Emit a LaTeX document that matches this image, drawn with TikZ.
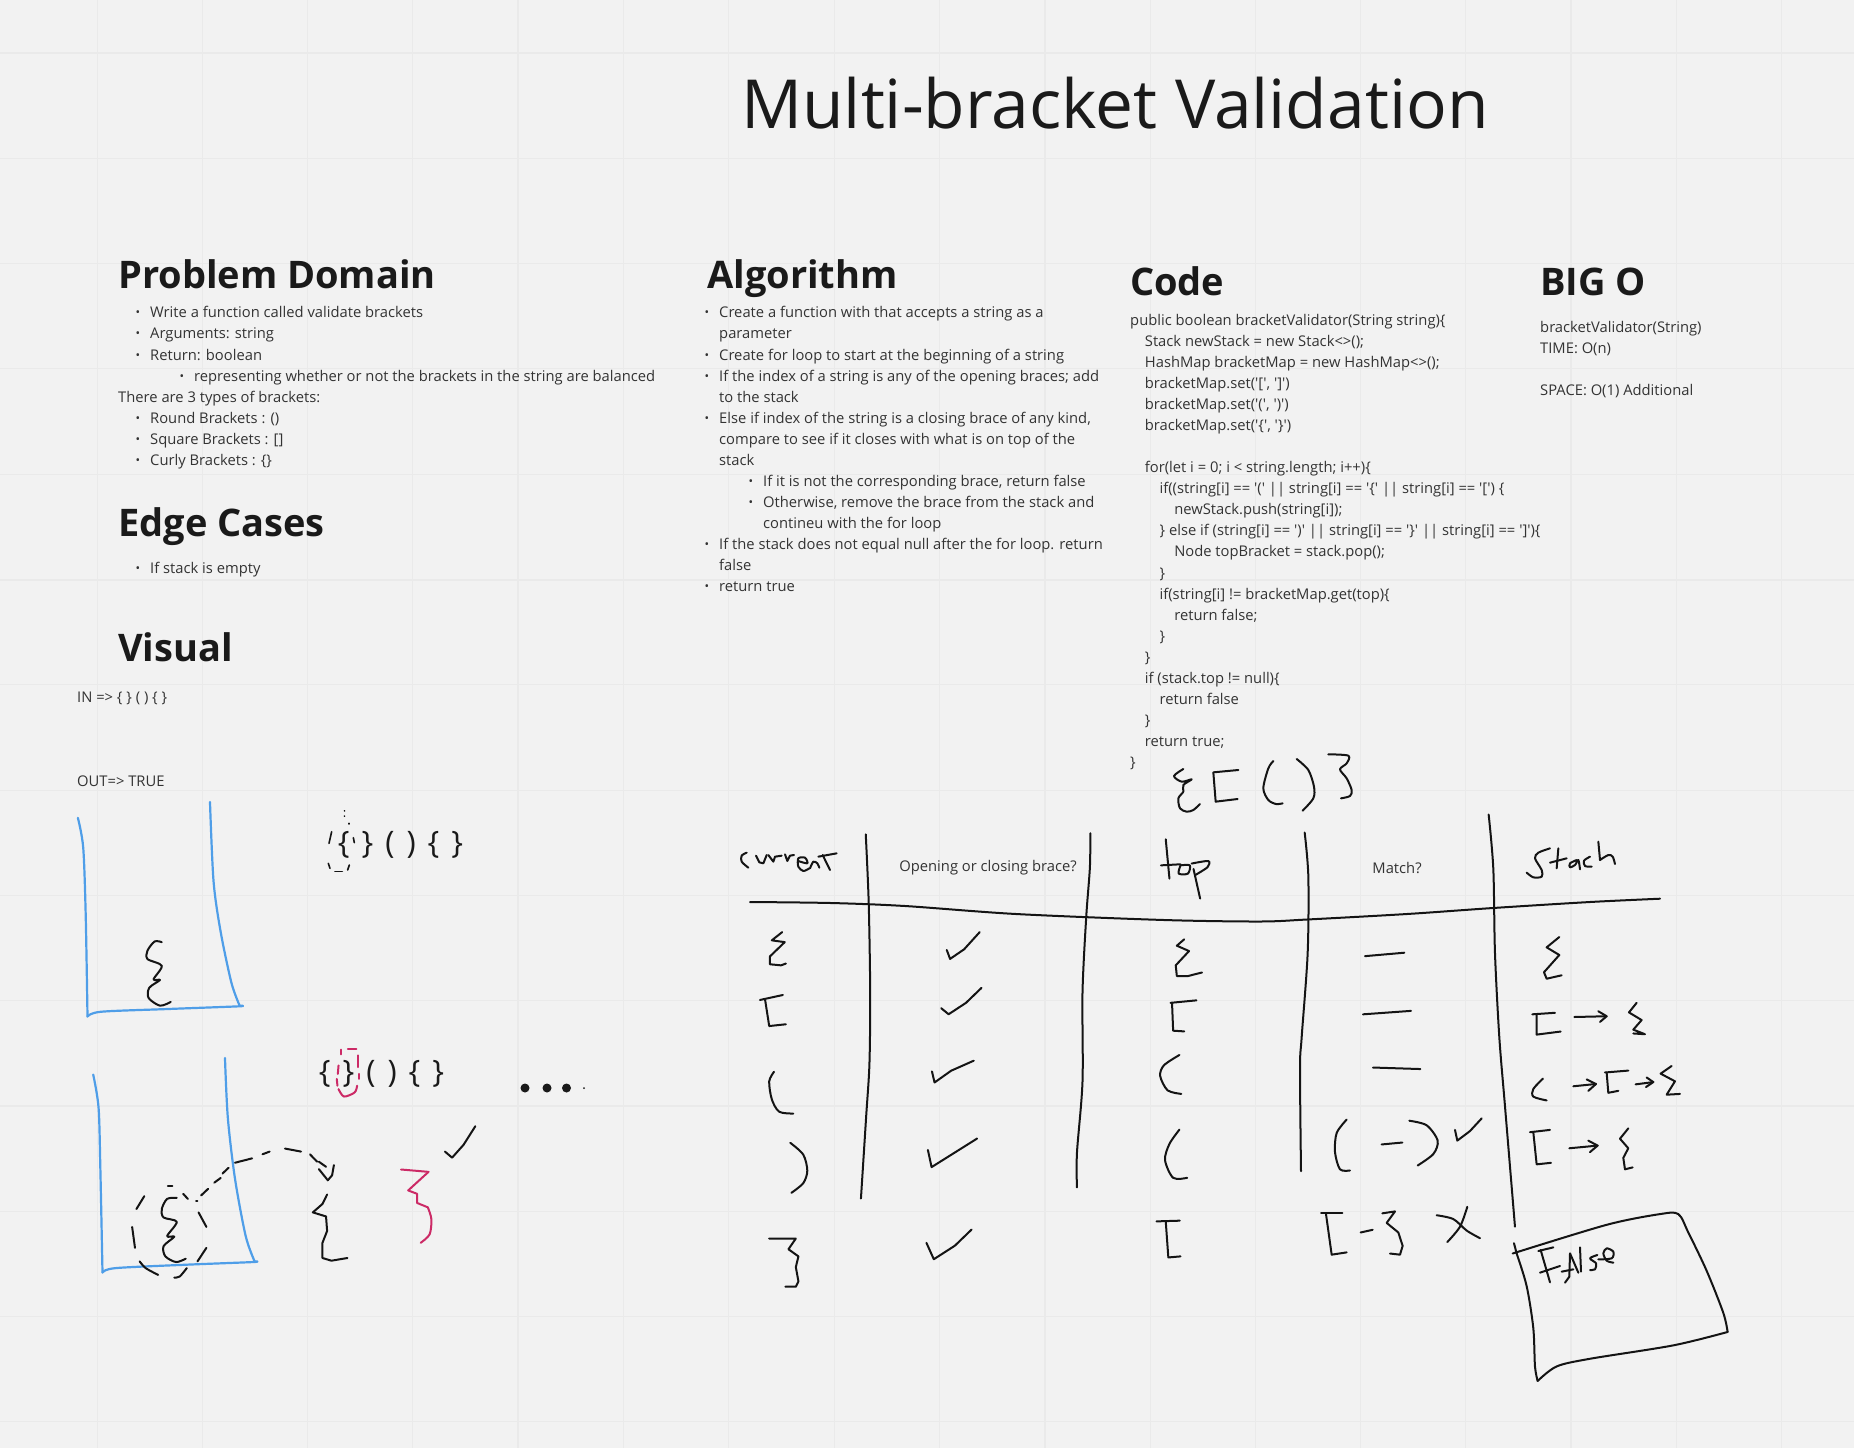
\documentclass[tikz,border=0pt]{standalone}
\usepackage{fontspec}
\setmainfont{Open Sans}[Ligatures=TeXOff]
\usetikzlibrary{positioning}
\definecolor{boardbg}{HTML}{F2F2F2}
\definecolor{gridline}{HTML}{EAEAEA}
\definecolor{inkdark}{HTML}{1A1A1A}
\definecolor{textdark}{HTML}{333333}
\definecolor{penblue}{HTML}{4F9EE8}
\definecolor{penred}{HTML}{CC2A66}
\newcommand{\hand}[2][]{\draw[inkline,smooth,#1] plot coordinates {#2};}
\newcommand{\bul}[1]{\hspace*{#1}\makebox[0pt][r]{\raisebox{1pt}{\fontsize{12}{12}\selectfont •}\hspace{10pt}}}
\newcommand{\ind}[1]{\hspace*{#1\dimexpr14.7pt\relax}}
\newcommand{\bracerow}{\{\hspace{12pt}\}\hspace{12pt}(\hspace{12pt})\hspace{12pt}\{\hspace{12pt}\}}

\begin{document}
\begin{tikzpicture}[
  x=1pt,y=-1pt,
  inkline/.style={draw=black!92,line width=2pt,line cap=round,line join=round},
  blueline/.style={draw=penblue,line width=2.2pt},
  redline/.style={draw=penred,line width=2pt},
  heading/.style={anchor=base west,inner sep=0pt,text=inkdark,font=\fontsize{38}{44}\selectfont\bfseries},
  bodytext/.style={anchor=north west,inner sep=0pt,align=left,text=textdark,font=\fontsize{14.75}{21.05}\selectfont},
  bracetext/.style={inner sep=0pt,text=inkdark,font=\fontsize{31}{36}\selectfont},
  labeltext/.style={inner sep=0pt,text=textdark,font=\fontsize{14.75}{21.05}\selectfont},
  sheetA/.style={shift={(60,780)},x=0.3571pt,y=-0.3378pt},
  sheetB/.style={shift={(720,760)},x=0.3699pt,y=-0.3571pt},
  sheetC/.style={shift={(1240,800)},x=0.3333pt,y=-0.3827pt},
  sheetD/.style={shift={(1150,740)},x=0.3333pt,y=-0.3333pt},
  sheetE/.style={shift={(310,790)},x=0.3333pt,y=-0.3333pt},
  sheetF/.style={shift={(730,835)},x=0.3333pt,y=-0.3333pt},
  sheetG/.style={shift={(1510,1220)},x=0.3333pt,y=-0.3333pt},
  sheetH/.style={shift={(1510,830)},x=0.3333pt,y=-0.3333pt}
]
\useasboundingbox (0,0) rectangle (1854,1448);
\fill[boardbg] (0,0) rectangle (1854,1448);
\foreach \k in {0,...,16} \draw[gridline,line width=1pt] (97+105.3*\k,0) -- (97+105.3*\k,1448);
\foreach \k in {0,...,13} \draw[gridline,line width=1pt] (0,53+105.3*\k) -- (1854,53+105.3*\k);
\foreach \k in {4,9,14} \draw[gridline,line width=2pt] (97+105.3*\k,0) -- (97+105.3*\k,1448);
\foreach \k in {0,5,10} \draw[gridline,line width=2pt] (0,53+105.3*\k) -- (1854,53+105.3*\k);

\node[anchor=base west,inner sep=0pt,text=inkdark,font=\fontsize{67.7}{76}\selectfont] (title) at (741,128) {Multi-bracket Validation};

\node[heading] (domainhead) at (118,288) {Problem Domain};
\node[bodytext] (domainlist) at (118,303) {\strut
\bul{32pt}Write a function called validate brackets\\
\bul{32pt}Arguments: string\\
\bul{32pt}Return: boolean\\
\bul{76pt}representing whether or not the brackets in the string are balanced\\
There are 3 types of brackets:\\
\bul{32pt}Round Brackets : ()\\
\bul{32pt}Square Brackets : []\\
\bul{32pt}Curly Brackets : \{\}};
\node[heading] (edgehead) at (118,536) {Edge Cases};
\node[bodytext] (edgelist) at (118,559) {\strut\bul{32pt}If stack is empty};
\node[heading] (visualhead) at (118,661) {Visual};
\node[bodytext] (visualin) at (77,688) {\strut IN => \{ \} ( ) \{ \}};
\node[bodytext] (visualout) at (77,772) {\strut OUT=> TRUE};

\node[heading] (algohead) at (707,288) {Algorithm};
\node[bodytext] (algolist) at (719,303) {\strut
\bul{0pt}Create a function with that accepts a string as a\\
parameter\\
\bul{0pt}Create for loop to start at the beginning of a string\\
\bul{0pt}If the index of a string is any of the opening braces; add\\
to the stack\\
\bul{0pt}Else if index of the string is a closing brace of any kind,\\
compare to see if it closes with what is on top of the\\
stack\\
\bul{44pt}If it is not the corresponding brace, return false\\
\bul{44pt}Otherwise, remove the brace from the stack and\\
\hspace*{44pt}contineu with the for loop\\
\bul{0pt}If the stack does not equal null after the for loop. return\\
false\\
\bul{0pt}return true};

\node[heading] (codehead) at (1130,295) {Code};
\node[bodytext] (codelist) at (1130,310.5) {\strut
public boolean bracketValidator(String string)\{\\
\ind{1}Stack newStack = new Stack<>();\\
\ind{1}HashMap bracketMap = new HashMap<>();\\
\ind{1}bracketMap.set('[', ']')\\
\ind{1}bracketMap.set('(', ')')\\
\ind{1}bracketMap.set('\{', '\}')\\
\strut\\
\ind{1}for(let i = 0; i < string.length; i++)\{\\
\ind{2}if((string[i] == '(' || string[i] == '\{' || string[i] == '[') \{\\
\ind{3}newStack.push(string[i]);\\
\ind{2}\} else if (string[i] == ')' || string[i] == '\}' || string[i] == ']')\{\\
\ind{3}Node topBracket = stack.pop();\\
\ind{2}\}\\
\ind{2}if(string[i] != bracketMap.get(top)\{\\
\ind{3}return false;\\
\ind{2}\}\\
\ind{1}\}\\
\ind{1}if (stack.top != null)\{\\
\ind{2}return false\\
\ind{1}\}\\
\ind{1}return true;\\
\}};

\node[heading] (bighead) at (1540,295) {BIG O};
\node[bodytext] (biglist) at (1540,317.5) {\strut
bracketValidator(String)\\
TIME: O(n)\\
\strut\\
SPACE: O(1) Additional};

\node[bracetext] (bracesone) at (400.5,845) {\bracerow};
\node[bracetext] (bracestwo) at (381.5,1074) {\bracerow};
\node[labeltext] (bracelabel) at (988,868) {Opening or closing brace?};
\node[labeltext] (matchlabel) at (1397,868) {Match?};

\fill[inkdark] (525,1088) circle (4.5pt) (547,1088) circle (4.5pt) (566.5,1088) circle (4.5pt) (584,1088) circle (1pt);

\begin{scope}[sheetA]
\hand[blueline]{(50,112)(65,200)(72,400)(77,700)}
\hand[blueline]{(77,700)(115,686)(300,678)(500,670)(503,668)}
\hand[blueline]{(503,668)(480,600)(450,450)(430,300)(420,65)}
\hand[blueline]{(93,872)(108,970)(113,1150)(119,1458)}
\hand[blueline]{(119,1458)(155,1445)(350,1435)(540,1427)(545,1425)}
\hand[blueline]{(545,1425)(520,1350)(490,1180)(470,1000)(462,823)}
\hand{(285,480)(265,478)(245,505)(245,530)(285,550)(262,590)(280,592)(250,615)(248,645)(280,668)(310,657)}
\hand{(327,1237)(300,1240)(285,1270)(290,1295)(327,1308)(300,1350)(320,1352)(290,1380)(295,1410)(325,1427)(352,1417)}
\hand[sharp plot]{(214,1270)(236,1232)}
\hand[sharp plot]{(302,1203)(315,1203)}
\hand[sharp plot]{(345,1225)(358,1240)}
\hand[sharp plot]{(381,1245)(385,1245)}
\hand[sharp plot]{(388,1280)(410,1323)}
\hand[sharp plot]{(410,1385)(385,1425)}
\hand{(355,1445)(335,1470)(320,1473)}
\hand{(275,1465)(240,1445)(223,1425)}
\hand[sharp plot]{(210,1385)(202,1323)}
\hand[sharp plot]{(395,1230)(415,1210)}
\hand[sharp plot]{(432,1192)(450,1178)}
\hand[sharp plot]{(455,1165)(472,1148)}
\hand[sharp plot]{(490,1133)(538,1120)}
\hand[sharp plot]{(567,1108)(587,1100)}
\hand[sharp plot]{(630,1091)(675,1100)}
\hand[sharp plot]{(700,1108)(720,1130)}
\hand[sharp plot]{(725,1130)(745,1145)}
\hand[sharp plot]{(725,1152)(750,1185)(762,1170)(767,1140)}
\hand[sharp plot]{(748,1227)(735,1255)(708,1280)(745,1292)(748,1335)(735,1370)(735,1415)(760,1423)(805,1415)}
\hand[redline]{(955,1153)(1032,1160)}
\hand[redline,sharp plot]{(1032,1160)(975,1215)(1000,1225)(1000,1252)(1030,1265)}
\hand[redline]{(1030,1265)(1040,1300)(1035,1345)(1010,1370)}
\hand[sharp plot]{(1078,1100)(1098,1118)(1130,1080)(1163,1025)}
\hand[redline,sharp plot]{(787,798)(787,812)}
\hand[redline,sharp plot]{(806,797)(830,797)}
\hand[redline,sharp plot]{(835,815)(835,850)}
\hand[redline,sharp plot]{(838,870)(838,885)}
\hand[redline]{(832,905)(825,925)(795,937)(780,915)}
\hand[redline,sharp plot]{(780,845)(778,870)}
\hand[redline,sharp plot]{(775,885)(777,905)}
\end{scope}

\begin{scope}[sheetE]
\hand[line width=1.6pt,sharp plot]{(103,62)(104,63)}
\hand[line width=1.6pt,sharp plot]{(103,78)(104,79)}
\hand[line width=1.6pt,sharp plot]{(117,100)(117,102)}
\hand[line width=1.6pt,sharp plot]{(65,125)(57,160)}
\hand[line width=1.6pt,sharp plot]{(130,143)(133,158)}
\hand[line width=1.6pt,sharp plot]{(55,220)(60,235)}
\hand[line width=1.6pt,sharp plot]{(75,245)(97,245)}
\hand[line width=1.6pt,sharp plot]{(118,225)(113,240)}
\end{scope}

\begin{scope}[sheetF]
\hand{(50,53)(35,62)(35,80)(55,98)}
\hand[sharp plot]{(78,62)(88,82)(100,85)(110,60)}
\hand[sharp plot]{(115,60)(130,80)(135,65)(155,62)}
\hand[sharp plot]{(165,58)(172,78)(180,62)(192,60)}
\hand{(205,78)(232,85)(225,68)(205,70)(205,95)(220,108)(238,100)}
\hand{(240,100)(250,80)(262,85)(268,98)}
\hand[sharp plot]{(278,60)(300,105)}
\hand[sharp plot]{(265,65)(320,55)}
\end{scope}

\begin{scope}[sheetB]
\hand{(394,208)(402,400)(406,650)(404,850)(395,1000)(381,1228)}
\hand{(1001,205)(1000,300)(990,440)(980,650)(980,900)(965,1100)(965,1197)}
\hand[sharp plot]{(168,482)(140,505)(175,510)(135,550)(135,572)(165,575)(178,570)}
\hand[sharp plot]{(108,672)(170,658)}
\hand[sharp plot]{(122,672)(133,745)(178,740)}
\hand{(146,873)(133,900)(140,950)(160,985)(198,990)}
\hand{(190,1072)(225,1105)(236,1150)(225,1185)(193,1212)}
\hand[sharp plot]{(133,1340)(205,1340)(185,1370)(212,1390)(205,1420)(212,1460)(205,1475)(177,1475)}
\hand[sharp plot]{(613,532)(622,557)(660,530)(702,482)}
\hand[sharp plot]{(598,695)(618,712)(665,680)(707,638)}
\hand[sharp plot]{(573,872)(580,903)(625,870)(686,842)}
\hand[sharp plot]{(562,1092)(572,1140)(695,1060)}
\hand[sharp plot]{(558,1352)(578,1398)(635,1360)(680,1315)}
\hand[sharp plot]{(1205,222)(1215,332)}
\hand[sharp plot]{(1192,295)(1245,292)}
\hand{(1245,295)(1240,318)(1265,318)(1270,295)(1245,295)}
\hand[sharp plot]{(1280,305)(1298,388)}
\hand{(1275,290)(1320,283)(1318,300)(1285,322)}
\hand[sharp plot]{(1255,502)(1235,520)(1268,535)(1232,575)(1235,605)(1265,605)(1303,595)}
\hand[sharp plot]{(1218,680)(1288,673)}
\hand[sharp plot]{(1222,680)(1225,758)(1255,760)}
\hand{(1242,826)(1200,855)(1190,885)(1210,925)(1247,935)}
\hand{(1242,1035)(1215,1075)(1203,1120)(1225,1170)(1263,1170)}
\hand[sharp plot]{(1180,1292)(1243,1290)}
\hand[sharp plot]{(1205,1292)(1212,1393)(1245,1390)}
\end{scope}

\hand{(750,902)(831,903)(905,906)(1016,914)(1164,920)(1260,921.5)(1307,919.5)(1407,914)(1493,908)(1590,902)(1660,898.7)}

\begin{scope}[sheetH]
\hand{(120,55)(85,68)(75,85)(95,120)(95,140)(70,142)(50,128)}
\hand[sharp plot]{(120,98)(170,85)}
\hand[sharp plot]{(145,55)(140,115)}
\hand{(200,90)(180,100)(180,112)(195,105)(205,90)(210,118)}
\hand{(240,80)(222,92)(225,108)(245,110)}
\hand[sharp plot]{(265,35)(270,90)}
\hand{(270,90)(295,75)(308,80)(315,102)}
\end{scope}

\begin{scope}[sheetG]
\hand[sharp plot]{(85,93)(130,82)}
\hand[sharp plot]{(92,90)(120,187)}
\hand[sharp plot]{(90,158)(150,138)}
\hand[sharp plot]{(165,188)(178,170)(180,100)(205,158)}
\hand[sharp plot]{(155,155)(190,148)}
\hand[sharp plot]{(210,82)(213,155)}
\hand{(262,105)(240,115)(258,130)(255,148)(240,150)}
\hand{(265,118)(305,115)(310,95)(290,85)(280,100)(290,122)(310,128)}
\end{scope}

\begin{scope}[sheetC]
\hand{(194,85)(205,200)(203,400)(185,620)(180,700)(183,970)}
\hand{(746,38)(760,180)(765,400)(778,620)(795,800)(825,1115)}
\hand[sharp plot]{(375,408)(493,399)}
\hand[sharp plot]{(369,560)(513,551)}
\hand[sharp plot]{(399,699)(541,703)}
\hand{(320,835)(290,870)(285,920)(300,965)(330,968)}
\hand[sharp plot]{(425,900)(487,895)}
\hand{(508,838)(560,850)(593,890)(580,925)(533,955)}
\hand[sharp plot]{(645,862)(652,890)(690,865)(725,832)}
\hand[sharp plot]{(243,1080)(307,1080)}
\hand[sharp plot]{(258,1082)(275,1188)(320,1182)}
\hand[sharp plot]{(362,1130)(398,1123)}
\hand[sharp plot]{(427,1080)(465,1075)(440,1105)(475,1130)(488,1165)(480,1188)(450,1185)}
\hand{(590,1085)(640,1095)(680,1125)(720,1145)}
\hand{(682,1063)(660,1115)(622,1155)}
\hand[sharp plot]{(822,1158)(830,1185)}
\hand{(818,1185)(1100,1110)(1260,1082)(1315,1082)(1345,1130)(1400,1230)(1450,1340)(1463,1390)}
\hand{(1463,1390)(1300,1425)(1050,1460)(950,1480)(893,1518)}
\hand{(893,1518)(885,1480)(880,1380)(860,1270)(830,1185)}
\hand[sharp plot]{(958,358)(920,385)(958,405)(912,450)(920,467)(965,458)}
\hand[sharp plot]{(877,560)(945,556)}
\hand[sharp plot]{(890,560)(890,613)(962,605)}
\hand[sharp plot]{(1003,567)(1100,565)}
\hand[sharp plot]{(1075,552)(1100,565)(1080,580)}
\hand[sharp plot]{(1190,530)(1167,555)(1205,575)(1180,600)(1215,612)(1180,610)}
\hand{(909,728)(880,755)(880,775)(920,785)}
\hand[sharp plot]{(1000,748)(1068,742)}
\hand[sharp plot]{(1040,730)(1068,742)(1045,760)}
\hand[sharp plot]{(1095,712)(1165,707)}
\hand[sharp plot]{(1100,712)(1105,765)(1135,760)}
\hand[sharp plot]{(1187,743)(1240,737)}
\hand[sharp plot]{(1220,725)(1240,737)(1218,750)}
\hand[sharp plot]{(1295,695)(1262,715)(1305,735)(1280,770)(1320,768)}
\hand[sharp plot]{(870,868)(930,862)}
\hand[sharp plot]{(880,868)(890,952)(933,948)}
\hand[sharp plot]{(988,910)(1073,903)}
\hand[sharp plot]{(1045,890)(1073,903)(1050,920)}
\hand[sharp plot]{(1165,858)(1140,885)(1165,910)(1150,935)(1155,965)(1178,960)}
\end{scope}

\begin{scope}[sheetD]
\hand{(100,87)(72,108)(95,125)(125,118)(100,135)(100,155)(85,175)(90,205)(110,215)(130,210)(150,192)}
\hand[sharp plot]{(265,90)(190,97)(197,185)(263,177)}
\hand{(370,63)(355,85)(340,145)(355,180)(378,192)(398,190)}
\hand{(440,57)(475,90)(492,140)(490,175)(458,212)}
\hand{(535,43)(595,47)(590,70)(570,88)(590,115)(605,150)(600,168)(573,175)}
\end{scope}
\end{tikzpicture}
\end{document}
